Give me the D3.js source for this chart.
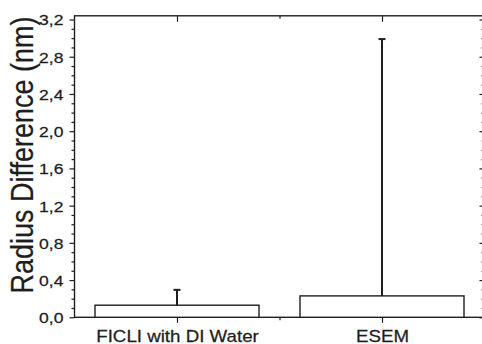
<!DOCTYPE html>
<html>
<head>
<meta charset="utf-8">
<script src="https://cdn.jsdelivr.net/npm/d3@7"></script>
<style>
  html, body { margin: 0; padding: 0; background: #fff; }
  svg { display: block; }
  text { font-family: "Liberation Sans", Arial, sans-serif; fill: #1e1e1e; }
</style>
</head>
<body>
<svg id="chart" width="482" height="344"></svg>
<script>
// Measured radius differences (nm) with upper standard deviation
const categories = ["FICLI with DI Water", "ESEM"];
const means = [0.13, 0.23];
const errors = [0.165, 2.76];
const yMajorTicks = [0, 0.4, 0.8, 1.2, 1.6, 2.0, 2.4, 2.8, 3.2];
const yTitle = "Radius Difference (nm)";

const frame = { left: 74.5, right: 484.5, top: 15.8, bottom: 317.3 };
const stretch = 1.17; // horizontal text stretch
const ink = "#1e1e1e";

const svg = d3.select("#chart");

const x = d3.scaleLinear().domain([0.5, categories.length + 0.5]).range([frame.left, frame.right]);
const y = d3.scaleLinear().domain([0, 3.24]).range([frame.bottom, frame.top]);

const locale = d3.formatLocale({ decimal: ",", thousands: ".", grouping: [3], currency: ["", ""] });
const fmt = locale.format(".1f");

const yMinor = d3.range(0, 3.2001, 0.1).filter(v => !yMajorTicks.some(t => Math.abs(t - v) < 1e-6));
const xMajor = categories.map((c, i) => i + 1);
const xMinor = d3.range(1.5, categories.length, 1);

// Frame
svg.append("rect")
  .attr("x", frame.left).attr("y", frame.top)
  .attr("width", frame.right - frame.left).attr("height", frame.bottom - frame.top)
  .attr("fill", "none").attr("stroke", ink).attr("stroke-width", 1.4);

function styleAxis(g) {
  g.select(".domain").remove();
  g.selectAll("line").attr("stroke", ink).attr("stroke-width", 1.2);
}

// Left axis (outward ticks, labelled)
const left = svg.append("g").attr("transform", `translate(${frame.left},0)`)
  .call(d3.axisLeft(y).tickValues(yMajorTicks).tickSize(5).tickPadding(0).tickFormat(fmt))
  .call(styleAxis);
left.selectAll(".tick text")
  .attr("font-size", 15)
  .attr("fill", ink)
  .attr("x", 0)
  .attr("y", 0)
  .attr("dy", "0.36em")
  .attr("stroke", ink).attr("stroke-width", 0.25)
  .attr("transform", `translate(-11,0) scale(${stretch},1)`);

svg.append("g").attr("transform", `translate(${frame.left},0)`)
  .call(d3.axisLeft(y).tickValues(yMinor).tickSize(3).tickFormat(""))
  .call(styleAxis);

// Right axis (inward ticks)
svg.append("g").attr("transform", `translate(${frame.right},0)`)
  .call(d3.axisRight(y).tickValues(yMajorTicks).tickSize(-5).tickFormat(""))
  .call(styleAxis);
svg.append("g").attr("transform", `translate(${frame.right},0)`)
  .call(d3.axisRight(y).tickValues(yMinor).tickSize(-3).tickFormat(""))
  .call(styleAxis);

// Bottom axis (outward ticks, category labels)
const bottom = svg.append("g").attr("transform", `translate(0,${frame.bottom})`)
  .call(d3.axisBottom(x).tickValues(xMajor).tickSize(5.5).tickPadding(0)
    .tickFormat(d => categories[d - 1]))
  .call(styleAxis);
bottom.selectAll(".tick text")
  .attr("font-size", 16)
  .attr("fill", ink)
  .attr("y", 0)
  .attr("dy", 0)
  .attr("stroke", ink).attr("stroke-width", 0.25)
  .attr("transform", `translate(0,24.5) scale(${stretch},1)`);

svg.append("g").attr("transform", `translate(0,${frame.bottom})`)
  .call(d3.axisBottom(x).tickValues(xMinor).tickSize(3).tickFormat(""))
  .call(styleAxis);

// Top axis (inward ticks)
svg.append("g").attr("transform", `translate(0,${frame.top})`)
  .call(d3.axisTop(x).tickValues(xMajor).tickSize(-6).tickFormat(""))
  .call(styleAxis);
svg.append("g").attr("transform", `translate(0,${frame.top})`)
  .call(d3.axisTop(x).tickValues(xMinor).tickSize(-3).tickFormat(""))
  .call(styleAxis);

// Bars
const barW = x(1.4) - x(0.6);
svg.append("g").selectAll("rect")
  .data(means)
  .join("rect")
  .attr("x", (d, i) => x(i + 1) - barW / 2)
  .attr("y", d => y(d))
  .attr("width", barW)
  .attr("height", d => y(0) - y(d))
  .attr("fill", "#fff")
  .attr("stroke", ink)
  .attr("stroke-width", 1.4);

// Upper error bars
const capW = 7;
const eb = svg.append("g").attr("stroke", ink).attr("stroke-width", 2);
eb.selectAll("line.stem")
  .data(means)
  .join("line").attr("class", "stem")
  .attr("x1", (d, i) => x(i + 1)).attr("x2", (d, i) => x(i + 1))
  .attr("y1", d => y(d)).attr("y2", (d, i) => y(d + errors[i]));
eb.selectAll("line.cap")
  .data(means)
  .join("line").attr("class", "cap")
  .attr("x1", (d, i) => x(i + 1) - capW / 2).attr("x2", (d, i) => x(i + 1) + capW / 2)
  .attr("y1", (d, i) => y(d + errors[i])).attr("y2", (d, i) => y(d + errors[i]));

// Y title
svg.append("text")
  .attr("transform", `translate(33,155) rotate(-90) scale(1,${stretch})`)
  .attr("text-anchor", "middle")
  .attr("font-size", 27)
  .attr("fill", ink)
  .attr("stroke", ink).attr("stroke-width", 0.2)
  .text(yTitle);
</script>
</body>
</html>
